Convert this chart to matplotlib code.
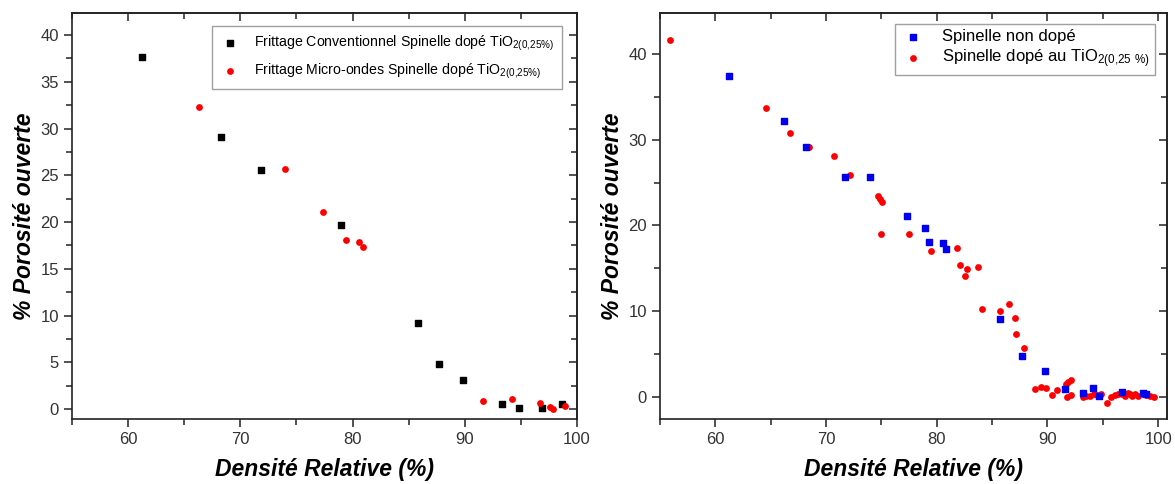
import matplotlib
matplotlib.use("Agg")
import matplotlib.pyplot as plt
from matplotlib.ticker import MultipleLocator, NullFormatter

plt.rcParams['font.family'] = ['Liberation Sans', 'DejaVu Sans']
plt.rcParams['mathtext.default'] = 'regular'

# left panel: conventional vs micro-wave sintering (TiO2 doped spinel)
conv_dens = [61.2, 68.3, 71.8, 79.0, 85.8, 87.7, 89.8, 93.3, 94.8, 96.9, 98.65]
conv_poro = [37.6, 29.1, 25.6, 19.7, 9.2, 4.8, 3.1, 0.53, 0.14, 0.14, 0.53]
mo_dens = [66.3, 74.0, 77.35, 79.4, 80.6, 80.9, 91.6, 94.2, 96.7, 97.6, 97.9, 98.95]
mo_poro = [32.25, 25.7, 21.1, 18.1, 17.9, 17.3, 0.89, 1.07, 0.64, 0.21, 0.07, 0.35]

# right panel: undoped vs doped spinel
nd_dens = [61.2, 66.2, 68.2, 71.75, 74.0, 77.3, 78.9, 79.3, 80.6, 80.8,
           85.75, 87.7, 89.8, 91.6, 93.2, 94.15, 94.7, 96.7, 98.6, 98.9]
nd_poro = [37.5, 32.2, 29.1, 25.6, 25.6, 21.1, 19.7, 18.1, 17.9, 17.25,
           9.1, 4.75, 3.0, 0.93, 0.47, 1.0, 0.08, 0.6, 0.47, 0.3]
dop_dens = [55.9, 64.6, 66.75, 68.5, 70.7, 72.15, 74.7, 74.9, 75.05, 75.0,
            77.5, 79.5, 81.85, 82.1, 82.7, 82.55, 83.7, 84.1, 85.7, 86.5,
            87.1, 87.2, 87.85, 88.85, 89.4, 89.9, 90.4, 90.9, 91.7, 91.9,
            92.1, 91.75, 92.1, 93.2, 93.5, 93.8, 94.25, 94.5, 94.85, 95.4,
            95.7, 96.1, 96.4, 96.7, 97.0, 97.3, 97.5, 97.6, 97.9, 98.2,
            98.6, 98.9, 99.3, 99.6]
dop_poro = [41.7, 33.7, 30.8, 29.1, 28.1, 25.9, 23.45, 23.1, 22.7, 19.05,
            19.05, 17.05, 17.4, 15.4, 14.95, 14.06, 15.1, 10.2, 10.05, 10.8,
            9.15, 7.3, 5.7, 0.93, 1.17, 1.05, 0.16, 0.82, 1.44, 1.7,
            1.95, 0.0, 0.23, 0.0, 0.08, 0.08, 0.27, 0.16, 0.35, -0.7,
            0.0, 0.16, 0.3, 0.35, 0.08, 0.43, 0.27, 0.08, 0.3, 0.08,
            0.3, 0.16, 0.08, 0.0]

lab_conv = r'Frittage Conventionnel Spinelle dopé TiO$_{2(0{,}25\%)}$'
lab_mo = r'Frittage Micro-ondes Spinelle dopé TiO$_{2(0{,}25\%)}$'
lab_nd = 'Spinelle non dopé'
lab_dop = r'Spinelle dopé au TiO$_{2(0{,}25\ \%)}$'

fig = plt.figure(figsize=(11.75, 4.84), dpi=100)
ax1 = fig.add_axes([72 / 1175, 65 / 484, 505 / 1175, 406 / 484])
ax2 = fig.add_axes([660 / 1175, 65 / 484, 507 / 1175, 406 / 484])

ax1.scatter(conv_dens, conv_poro, marker='s', s=18, color='black', label=lab_conv, zorder=3)
ax1.scatter(mo_dens, mo_poro, marker='o', s=24, color='red', linewidths=0, label=lab_mo, zorder=3)
ax2.scatter(nd_dens, nd_poro, marker='s', s=16, color='#0000ee', label=lab_nd, zorder=3)
ax2.scatter(dop_dens, dop_poro, marker='o', s=24, color='red', linewidths=0, label=lab_dop, zorder=2)

ax1.set_xlim(55, 100)
ax1.set_ylim(-1.05, 42.35)
ax2.set_xlim(55, 100.8)
ax2.set_ylim(-2.6, 44.8)

ysteps = {ax1: (5, 2.5), ax2: (10, 5)}
dark = '#222222'

for ax in (ax1, ax2):
    ymaj, ymin = ysteps[ax]
    ax.xaxis.set_major_locator(MultipleLocator(10))
    ax.xaxis.set_minor_locator(MultipleLocator(5))
    ax.yaxis.set_major_locator(MultipleLocator(ymaj))
    ax.yaxis.set_minor_locator(MultipleLocator(ymin))
    for sp in ax.spines.values():
        sp.set_linewidth(1.2)
        sp.set_color(dark)
    ax.tick_params(which='both', direction='out', color=dark, width=1.1,
                   top=False, right=False)
    ax.tick_params(which='major', length=6)
    ax.tick_params(which='minor', length=4)
    ax.tick_params(labelsize=12, labelcolor='#333333')

    # mirrored ticks on top / right, pointing inwards
    top = ax.secondary_xaxis('top')
    right = ax.secondary_yaxis('right')
    top.xaxis.set_major_locator(MultipleLocator(10))
    top.xaxis.set_minor_locator(MultipleLocator(5))
    right.yaxis.set_major_locator(MultipleLocator(ymaj))
    right.yaxis.set_minor_locator(MultipleLocator(ymin))
    for sec in (top, right):
        sec.tick_params(which='both', direction='in', color=dark, width=1.1,
                        labeltop=False, labelright=False)
        sec.tick_params(which='major', length=6)
        sec.tick_params(which='minor', length=4)
        for sp in sec.spines.values():
            sp.set_linewidth(1.2)
            sp.set_color(dark)
    top.xaxis.set_major_formatter(NullFormatter())
    right.yaxis.set_major_formatter(NullFormatter())

    ax.set_xlabel('Densité Relative (%)', fontsize=16.5, fontweight='bold',
                  fontstyle='italic', labelpad=8)
    ax.set_ylabel('% Porosité ouverte', fontsize=16.5, fontweight='bold',
                  fontstyle='italic', labelpad=3)

leg1 = ax1.legend(loc='upper right', bbox_to_anchor=(0.970, 0.968), borderaxespad=0,
                  fontsize=10.2, frameon=True, fancybox=False, handletextpad=1.0,
                  handlelength=1.4, labelspacing=0.6, borderpad=0.55, scatterpoints=1)
leg1.get_frame().set_edgecolor('#888888')
leg1.get_frame().set_linewidth(1.0)

leg2 = ax2.legend(loc='upper right', bbox_to_anchor=(0.976, 0.973), borderaxespad=0,
                  fontsize=12, frameon=True, fancybox=False, handletextpad=1.0,
                  handlelength=1.5, labelspacing=0.2, borderpad=0.3, scatterpoints=1)
leg2.get_frame().set_edgecolor('#888888')
leg2.get_frame().set_linewidth(1.0)

fig.savefig('out.png', dpi=100)
